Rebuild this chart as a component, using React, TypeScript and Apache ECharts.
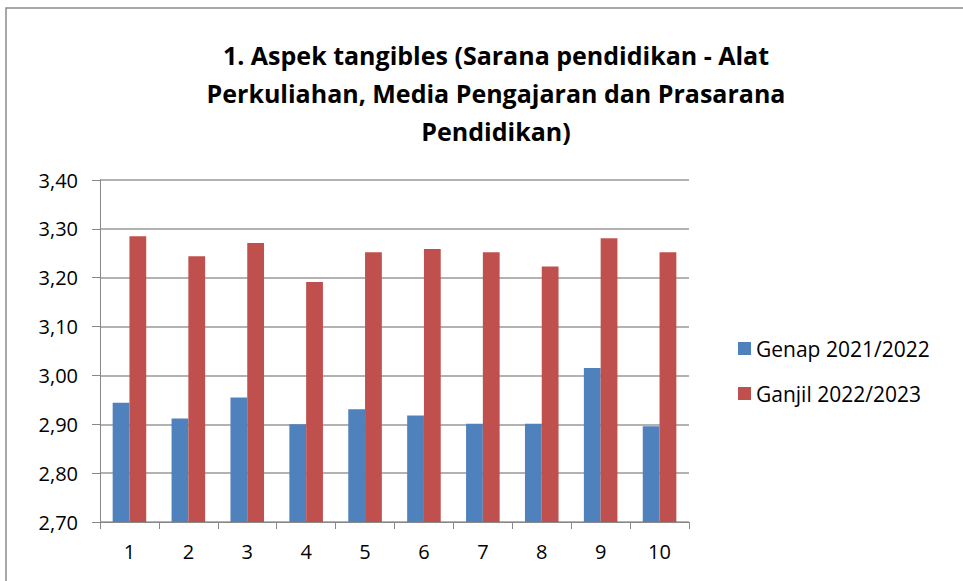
import React, { useEffect, useRef } from "react";
import * as echarts from "echarts";

const categories = ["1", "2", "3", "4", "5", "6", "7", "8", "9", "10"];
const genap = [2.944, 2.912, 2.955, 2.9, 2.931, 2.918, 2.901, 2.901, 3.015, 2.896];
const ganjil = [3.285, 3.244, 3.271, 3.191, 3.252, 3.259, 3.252, 3.223, 3.281, 3.252];
const seriesNames = ["Genap 2021/2022", "Ganjil 2022/2023"];
const titleText = "1. Aspek tangibles (Sarana pendidikan - Alat\nPerkuliahan, Media Pengajaran dan Prasarana\nPendidikan)";

export default function App() {
  const ref = useRef<HTMLDivElement>(null);
  useEffect(() => {
    const chart = echarts.init(ref.current!, null, { renderer: "svg" });
    const font = "'Open Sans', 'Noto Sans', sans-serif";
    chart.setOption({
      animation: false,
      backgroundColor: "#ffffff",
      textStyle: { fontFamily: font },
      title: {
        text: titleText,
        left: 491,
        top: 31,
        textAlign: "center",
        textStyle: { fontFamily: font, fontSize: 25, fontWeight: "bold", color: "#000", lineHeight: 38 },
      },
      graphic: [
        { type: "rect", shape: { x: 6, y: 8, width: 1000, height: 600 }, style: { fill: "none", stroke: "#8c8c8c", lineWidth: 1.5 }, silent: true },
      ],
      legend: {
        orient: "vertical",
        left: 733,
        top: 333,
        itemWidth: 13,
        itemHeight: 13,
        itemGap: 24,
        icon: "rect",
        textStyle: { fontFamily: font, fontSize: 21, color: "#000" },
        data: seriesNames,
      },
      grid: { left: 100, right: 274, top: 180, bottom: 59, containLabel: false },
      xAxis: {
        type: "category",
        data: categories,
        axisLine: { lineStyle: { color: "#888", width: 1 } },
        axisTick: { show: true, length: 7, lineStyle: { color: "#888" }, alignWithLabel: false },
        axisLabel: { fontFamily: font, fontSize: 20, color: "#000", margin: 19 },
      },
      yAxis: {
        type: "value",
        min: 2.7,
        max: 3.4,
        interval: 0.1,
        axisLine: { show: true, lineStyle: { color: "#888", width: 1 } },
        axisTick: { show: true, length: 8, lineStyle: { color: "#888" } },
        splitLine: { lineStyle: { color: "#999", width: 1.5 } },
        axisLabel: {
          fontFamily: font,
          fontSize: 20,
          color: "#000",
          margin: 22,
          formatter: (v: number) => v.toFixed(2).replace(".", ","),
        },
      },
      series: [
        {
          name: seriesNames[0],
          type: "bar",
          data: genap,
          barGap: "0%",
          barCategoryGap: "43%",
          itemStyle: { color: "#4F81BD" },
        },
        {
          name: seriesNames[1],
          type: "bar",
          data: ganjil,
          barGap: "0%",
          barCategoryGap: "43%",
          itemStyle: { color: "#C0504D" },
        },
      ],
    });
    return () => chart.dispose();
  }, []);
  return <div ref={ref} style={{ position: "fixed", left: 0, top: 0, width: 963, height: 581 }} />;
}
